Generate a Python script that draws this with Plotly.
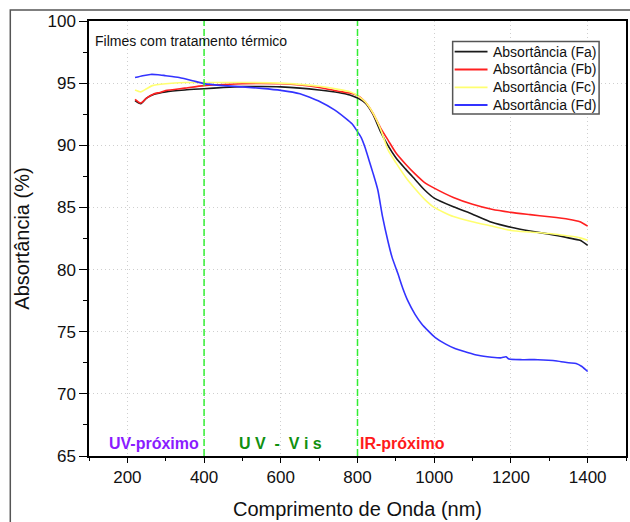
import plotly.graph_objects as go

# ---------------- data ----------------
wl_fa = [220, 235, 250, 270, 300, 350, 400, 450, 500, 550, 600, 650, 700, 750, 780, 800,
         820, 840, 860, 880, 900, 925, 950, 975, 1000, 1050, 1100, 1150, 1200, 1250, 1300,
         1350, 1380, 1400]
abs_fa = [93.6, 93.35, 93.8, 94.1, 94.3, 94.45, 94.55, 94.65, 94.72, 94.73, 94.7, 94.6,
          94.45, 94.25, 94.05, 93.8, 93.4, 92.5, 91.1, 89.95, 89.0, 88.1, 87.25, 86.4,
          85.75, 85.05, 84.45, 83.8, 83.4, 83.1, 82.85, 82.55, 82.35, 81.95]

wl_fb = [220, 235, 250, 270, 285, 300, 350, 400, 450, 500, 550, 600, 650, 700, 750, 780,
         800, 820, 840, 860, 880, 900, 925, 950, 975, 1000, 1050, 1100, 1150, 1200, 1250,
         1300, 1350, 1380, 1400]
abs_fb = [93.7, 93.4, 93.8, 94.15, 94.25, 94.4, 94.6, 94.8, 94.88, 94.95, 94.97, 94.95,
          94.85, 94.65, 94.35, 94.2, 94.0, 93.5, 92.6, 91.4, 90.4, 89.4, 88.5, 87.7, 87.0,
          86.55, 85.8, 85.25, 84.85, 84.6, 84.42, 84.25, 84.05, 83.85, 83.5]

wl_fc = [220, 235, 250, 265, 300, 350, 400, 500, 600, 650, 700, 750, 780, 800, 820, 840,
         860, 880, 900, 925, 950, 975, 1000, 1050, 1100, 1150, 1200, 1250, 1300, 1350,
         1380, 1400]
abs_fc = [94.45, 94.3, 94.55, 94.8, 94.95, 95.05, 95.05, 95.05, 95.0, 94.9, 94.75, 94.5,
          94.3, 94.0, 93.5, 92.6, 91.3, 89.6, 88.6, 87.45, 86.5, 85.65, 85.0, 84.27, 83.85,
          83.5, 83.15, 83.02, 82.9, 82.7, 82.55, 82.35]

wl_fd = [220, 240, 260, 280, 300, 335, 370, 400, 450, 500, 550, 600, 650, 680, 700, 740,
         770, 785, 800, 810, 820, 830, 840, 853, 865, 880, 890, 905, 918, 931, 950, 967,
         985, 1002, 1030, 1054, 1085, 1114, 1150, 1175, 1187, 1195, 1230, 1270, 1320, 1350,
         1370, 1385, 1400]
abs_fd = [95.45, 95.6, 95.7, 95.68, 95.6, 95.45, 95.2, 94.96, 94.8, 94.7, 94.58, 94.42,
          94.15, 93.8, 93.55, 92.85, 92.15, 91.75, 91.1, 90.6, 89.8, 88.8, 87.8, 86.4, 84.3,
          82.2, 81.0, 79.7, 78.5, 77.5, 76.4, 75.65, 75.05, 74.55, 74.0, 73.65, 73.35, 73.1,
          72.95, 72.9, 72.98, 72.8, 72.75, 72.75, 72.65, 72.5, 72.45, 72.2, 71.8]

series_names = ["Absortância (Fa)", "Absortância (Fb)", "Absortância (Fc)", "Absortância (Fd)"]
region_bounds = [400, 800]
region_labels = ["UV-próximo", "U V  -  V i s", "IR-próximo"]
region_label_x = [270, 600, 918]
region_label_y = 66.0

# ---------------- figure ----------------
FONT = "Arial, Liberation Sans, sans-serif"
colors = ["#1a1a1a", "#ff2020", "#ffff70", "#3333ff"]
xs = [wl_fa, wl_fb, wl_fc, wl_fd]
ys = [abs_fa, abs_fb, abs_fc, abs_fd]

# plot-area geometry in pixels (for paper-coordinate decorations)
W, H = 630, 522
ML, MR, MT, MB = 89, 2, 21, 66
PW, PH = W - ML - MR, H - MT - MB


def px(xp):
    return (xp - ML) / PW


def py(yp):
    return (H - MB - yp) / PH


fig = go.Figure()
for name, x, y, c in zip(series_names, xs, ys, colors):
    fig.add_trace(go.Scatter(x=x, y=y, mode="lines", name=name, showlegend=False,
                             line=dict(color=c, width=1.6, shape="spline", smoothing=0.6)))

for b in region_bounds:
    fig.add_shape(type="line", x0=b, x1=b, y0=0, y1=1, xref="x", yref="paper",
                  line=dict(color="#33ee33", width=1.5, dash="7px,3px"), layer="above")

label_colors = ["#8a1cff", "#109010", "#ff1a1a"]
for t, xv, c in zip(region_labels, region_label_x, label_colors):
    fig.add_annotation(x=xv, y=region_label_y, text="<b>%s</b>" % t, showarrow=False,
                       xanchor="center", yanchor="middle",
                       font=dict(family=FONT, size=16, color=c))

fig.add_annotation(x=px(93), y=py(41), xref="paper", yref="paper",
                   text="Filmes com tratamento térmico",
                   showarrow=False, xanchor="left", yanchor="middle",
                   font=dict(family=FONT, size=14, color="#111"))

# legend drawn as a box with line samples and labels
fig.add_shape(type="rect", xref="paper", yref="paper", x0=px(454), x1=px(601),
              y0=py(114), y1=py(41.5), line=dict(color="#555", width=1.5),
              fillcolor="white", layer="above")
row_y = [51.7, 69.5, 87.3, 105.0]
for name, c, ry in zip(series_names, colors, row_y):
    fig.add_shape(type="line", xref="paper", yref="paper", x0=px(456), x1=px(489),
                  y0=py(ry), y1=py(ry), line=dict(color=c, width=1.8), layer="above")
    fig.add_annotation(x=px(492), y=py(ry), xref="paper", yref="paper", text=name,
                       showarrow=False, xanchor="left", yanchor="middle",
                       font=dict(family=FONT, size=14, color="#111"))

# outer frame
fig.add_shape(type="rect", xref="paper", yref="paper", x0=px(10), y0=-0.4, x1=1.3, y1=py(10),
              line=dict(color="#555", width=1.5), fillcolor="rgba(0,0,0,0)", layer="above")

fig.update_layout(
    width=W, height=H,
    margin=dict(l=ML, r=MR, t=MT, b=MB),
    paper_bgcolor="white", plot_bgcolor="white",
    font=dict(family=FONT, color="#111"),
    showlegend=False,
    xaxis=dict(range=[100, 1500], tick0=0, dtick=200, ticks="outside", ticklen=5,
               tickwidth=1.3, tickcolor="black",
               minor=dict(dtick=100, ticks="outside", ticklen=3, tickwidth=1.3,
                          tickcolor="black", showgrid=False),
               showgrid=True, gridcolor="#cfcfcf", griddash="1px,3px", gridwidth=1,
               showline=True, linecolor="black", linewidth=1.5, mirror=True,
               zeroline=False, tickfont=dict(family=FONT, size=17, color="#111"),
               title=dict(text="Comprimento de Onda (nm)",
                          font=dict(family=FONT, size=20, color="#111"), standoff=16)),
    xaxis2=dict(range=[100, 1500], overlaying="x", side="top", anchor="y", tick0=0,
                dtick=100, ticks="inside", ticklen=4, tickwidth=1.3, tickcolor="black",
                showticklabels=False, showgrid=False, showline=False, zeroline=False),
    yaxis=dict(range=[65, 100], tick0=0, dtick=5, ticks="outside", ticklen=8,
               tickwidth=1.3, tickcolor="black",
               minor=dict(dtick=2.5, ticks="outside", ticklen=4, tickwidth=1.3,
                          tickcolor="black", showgrid=False),
               showgrid=True, gridcolor="#cfcfcf", griddash="1px,3px", gridwidth=1,
               showline=True, linecolor="black", linewidth=1.5, mirror=True,
               zeroline=False, tickfont=dict(family=FONT, size=17, color="#111"),
               title=dict(text="Absortância (%)",
                          font=dict(family=FONT, size=20, color="#111"), standoff=12)),
)

fig.write_html("out.html", config={"displayModeBar": False},
               post_script="document.body.style.margin='0';document.body.style.overflow='hidden';")
